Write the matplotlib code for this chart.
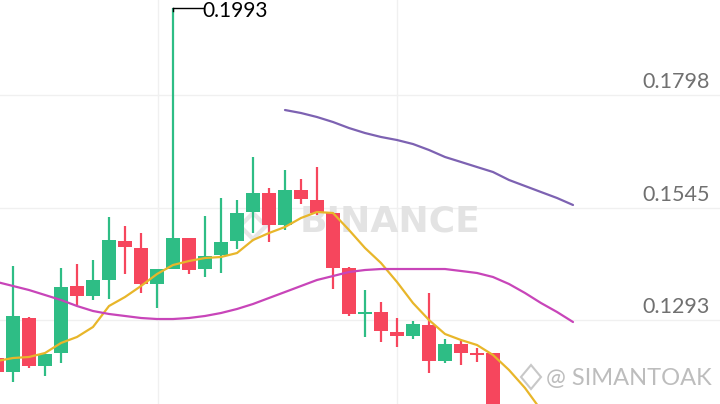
import matplotlib
matplotlib.use("Agg")
import matplotlib.pyplot as plt
from matplotlib.patches import Polygon

# ---------------- data ----------------
candle_idx = list(range(-1, 31))
opens = [0.1208, 0.1176, 0.1298, 0.1190, 0.1219, 0.1369, 0.1347, 0.1383, 0.1470, 0.1455,
         0.1374, 0.1408, 0.1477, 0.1408, 0.1439, 0.1470, 0.1536, 0.1578, 0.1506, 0.1585,
         0.1562, 0.1533, 0.1410, 0.1307, 0.1311, 0.1266, 0.1257, 0.1282, 0.1201, 0.1239,
         0.1219, 0.1219]
closes = [0.1176, 0.1302, 0.1190, 0.1217, 0.1367, 0.1347, 0.1383, 0.1473, 0.1457, 0.1374,
          0.1408, 0.1477, 0.1405, 0.1437, 0.1468, 0.1533, 0.1578, 0.1506, 0.1585, 0.1565,
          0.1533, 0.1410, 0.1307, 0.1311, 0.1268, 0.1257, 0.1284, 0.1201, 0.1239, 0.1219,
          0.1215, 0.1060]
highs = [0.1215, 0.1414, 0.1300, 0.1217, 0.1410, 0.1419, 0.1428, 0.1524, 0.1504, 0.1488,
         0.1408, 0.1993, 0.1477, 0.1527, 0.1567, 0.1562, 0.1659, 0.1589, 0.1630, 0.1610,
         0.1636, 0.1533, 0.1412, 0.1360, 0.1334, 0.1298, 0.1291, 0.1354, 0.1251, 0.1246,
         0.1230, 0.1219]
lows = [0.1167, 0.1154, 0.1185, 0.1167, 0.1197, 0.1327, 0.1338, 0.1340, 0.1396, 0.1354,
        0.1320, 0.1407, 0.1396, 0.1390, 0.1399, 0.1452, 0.1488, 0.1468, 0.1495, 0.1553,
        0.1529, 0.1363, 0.1302, 0.1255, 0.1244, 0.1233, 0.1251, 0.1174, 0.1197, 0.1192,
        0.1199, 0.1040]

ma_fast_start = -1
ma_fast = [0.12011, 0.12078, 0.12101, 0.1219, 0.12415, 0.1255, 0.12774, 0.13245, 0.13447,
           0.13694, 0.13963, 0.14165, 0.14255, 0.14322, 0.14345, 0.14434, 0.14726, 0.14883,
           0.15018, 0.1522, 0.15355, 0.15332, 0.14951, 0.14547, 0.1421, 0.13784, 0.13312,
           0.12931, 0.12617, 0.12482, 0.1237, 0.12146, 0.11809, 0.11405, 0.10911]
ma_mid_start = -1
ma_mid = [0.13784, 0.13694, 0.13604, 0.13492, 0.1338, 0.13245, 0.13133, 0.13066, 0.13021,
          0.12976, 0.12953, 0.12953, 0.12976, 0.13021, 0.13088, 0.13178, 0.1329, 0.13425,
          0.13559, 0.13694, 0.13829, 0.13918, 0.14008, 0.14053, 0.14075, 0.14075, 0.14075,
          0.14075, 0.14075, 0.14031, 0.13986, 0.13896, 0.13739, 0.13537, 0.13312, 0.13111,
          0.12886]
ma_slow_start = 17
ma_slow = [0.17643, 0.17576, 0.17486, 0.17374, 0.17239, 0.17127, 0.17038, 0.1697, 0.1688,
           0.16746, 0.16589, 0.16477, 0.16364, 0.16252, 0.16073, 0.15938, 0.15803, 0.15669,
           0.15512]

price_ticks = [0.1293, 0.1545, 0.1798]
time_grid = [9.06, 24.0]
peak_label = "0.1993"
peak_idx = 10
peak_price = 0.1993

UP = "#2EBD85"
DOWN = "#F6465D"

# ---------------- figure ----------------
fig = plt.figure(figsize=(7.2, 4.04), dpi=100)
ax = fig.add_axes([0, 0, 1, 1])
ax.set_xlim(-0.8125, 44.1875)
ax.set_ylim(0.11046, 0.20112)
ax.axis("off")

for p in price_ticks:
    ax.axhline(p, color="#f0f0f0", lw=1.0, zorder=0)
    ax.annotate(f"{p:.4f}", xy=(1, p), xycoords=("axes fraction", "data"),
                xytext=(-10, 3), textcoords="offset pixels", ha="right", va="bottom",
                fontsize=15.5, color="#707070", family="Lato")
for t in time_grid:
    ax.axvline(t, color="#f0f0f0", lw=1.0, zorder=0)

# watermark BINANCE
ax.text(0.4165, 0.452, "BINANCE", transform=ax.transAxes, fontsize=26,
        fontweight="bold", color="#e3e3e3", ha="left", va="center",
        family="DejaVu Sans", zorder=1)
# faint logo diamond
cx, cy = 253 / 720, 1 - 226 / 404
dx, dy = 13 / 720, 13 / 404
ax.add_patch(Polygon([(cx - dx, cy), (cx, cy + dy), (cx + dx, cy), (cx, cy - dy)],
                     closed=True, transform=ax.transAxes, fill=False,
                     edgecolor="#e6e6e6", lw=3, zorder=1))

# candles
for i, o, h, l, c in zip(candle_idx, opens, highs, lows, closes):
    col = UP if c >= o else DOWN
    ax.vlines(i, l, h, color=col, lw=1.6, zorder=3)
    bot = min(o, c)
    hgt = max(abs(c - o), 0.0003)
    ax.bar(i, hgt, bottom=bot, width=0.84, color=col, lw=0, zorder=3)

# moving averages
ax.plot(range(ma_fast_start, ma_fast_start + len(ma_fast)), ma_fast,
        color="#E8B62A", lw=1.6, zorder=4, solid_capstyle="round")
ax.plot(range(ma_mid_start, ma_mid_start + len(ma_mid)), ma_mid,
        color="#C845B9", lw=1.6, zorder=4, solid_capstyle="round")
ax.plot(range(ma_slow_start, ma_slow_start + len(ma_slow)), ma_slow,
        color="#7D62B2", lw=1.6, zorder=4, solid_capstyle="round")

# peak annotation
ax.plot([peak_idx, peak_idx + 1.85], [peak_price, peak_price], color="black", lw=1.0, zorder=5)
ax.plot([peak_idx, peak_idx], [peak_price, peak_price - 0.0006], color="black", lw=1.0, zorder=5)
ax.annotate(peak_label, xy=(peak_idx + 1.85, peak_price), xytext=(0, -3),
            textcoords="offset pixels", fontsize=15, color="black",
            ha="left", va="center", family="Lato", zorder=5)

# bottom-right watermark
lx, ly = 531 / 720, 1 - 377 / 404
ldx, ldy = 10 / 720, 12 / 404
ax.add_patch(Polygon([(lx - ldx, ly), (lx, ly + ldy), (lx + ldx, ly), (lx, ly - ldy)],
                     closed=True, transform=ax.transAxes, fill=False,
                     edgecolor="#c8c8c8", lw=1.5, zorder=6))
ax.text(712 / 720, 1 - 378 / 404, "@ SIMANTOAK", transform=ax.transAxes,
        fontsize=17, color="#bdbdbd", ha="right", va="center", family="Lato", zorder=6)

fig.savefig("out.png", dpi=100)
